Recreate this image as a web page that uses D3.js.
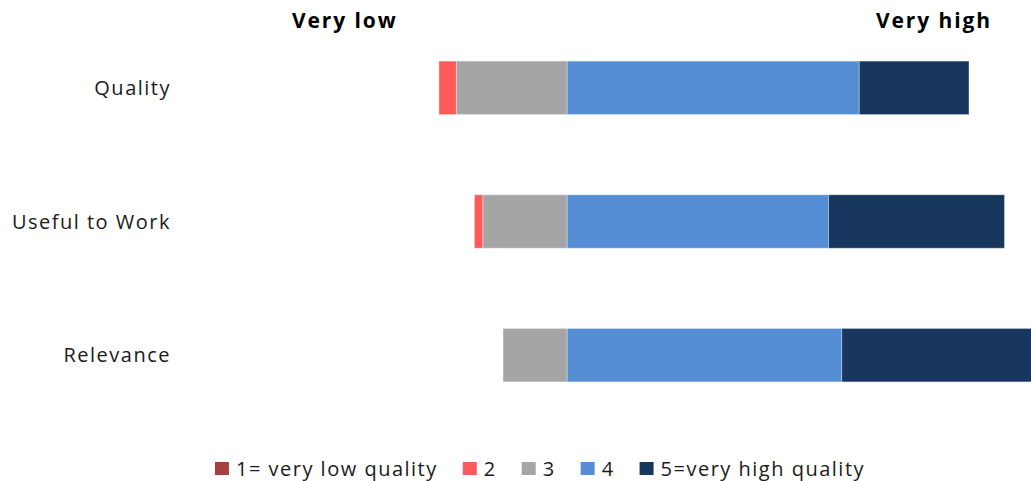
<!DOCTYPE html>
<html lang="en">
<head>
    <meta charset="UTF-8">
    <title>Quality ratings</title>
    <style>
        body { margin: 0; background: #fff; }
        svg { display: block; font-family: "Open Sans", sans-serif; }
        .cat { font-size: 20px; fill: #1a1a1a; text-anchor: end; letter-spacing: 1.5px; }
        .head { font-size: 21px; font-weight: bold; fill: #000; letter-spacing: 1.9px; }
        .legend text { font-size: 20px; fill: #1a1a1a; letter-spacing: 1.5px; }
    </style>
</head>
<body>
<script src="https://d3js.org/d3.v7.min.js"></script>
<script>
    // Data (percent of answers)
    const categories = ["Quality", "Useful to Work", "Relevance"];
    const levels = ["1= very low quality", "2", "3", "4", "5=very high quality"];
    const v1 = [0, 0, 0];
    const v2 = [3.3, 1.6, 0];
    const v3 = [20.9, 15.9, 12.1];
    const v4 = [55.1, 49.3, 51.8];
    const v5 = [20.7, 33.2, 36.1];
    const colors = ["#A5403F", "#FF5A5A", "#A5A5A5", "#558ED5", "#17375E"];

    const width = 1031, height = 481;

    const svg = d3.select("body").append("svg")
        .attr("width", width)
        .attr("height", height);

    // x: 0 sits between level 3 and level 4
    const x = d3.scaleLinear().domain([-107, 87.5]).range([0, width]);
    const y = d3.scaleBand().domain(categories).range([21, 422])
        .paddingInner(0.6).paddingOuter(0.3);

    // Build segments: levels 1-3 to the left of zero, 4-5 to the right
    const segs = [];
    categories.forEach((c, i) => {
        const vals = [v1[i], v2[i], v3[i], v4[i], v5[i]];
        let start = -(vals[0] + vals[1] + vals[2]);
        vals.forEach((v, k) => {
            if (v > 0) segs.push({ cat: c, k: k, x0: start, x1: start + v });
            start += v;
        });
    });

    svg.append("g").selectAll("rect")
        .data(segs)
        .enter().append("rect")
        .attr("x", d => x(d.x0))
        .attr("y", d => y(d.cat))
        .attr("width", d => x(d.x1) - x(d.x0))
        .attr("height", y.bandwidth())
        .attr("fill", d => colors[d.k])
        .attr("stroke", "#ffffff")
        .attr("stroke-opacity", 0.35)
        .attr("stroke-width", 1);

    // category labels
    svg.append("g").selectAll("text")
        .data(categories)
        .enter().append("text")
        .attr("class", "cat")
        .attr("x", 171)
        .attr("y", d => y(d) + y.bandwidth() / 2 + 7)
        .text(d => d);

    // end labels
    svg.append("text").attr("class", "head").attr("x", 292).attr("y", 28).text("Very low");
    svg.append("text").attr("class", "head").attr("x", 876).attr("y", 28).text("Very high");

    // legend
    const legend = svg.append("g").attr("class", "legend");
    let lx = 0;
    levels.forEach((l, k) => {
        const g = legend.append("g").attr("transform", "translate(" + lx + ",0)");
        g.append("rect").attr("x", 0).attr("y", -14).attr("width", 14).attr("height", 13)
            .attr("fill", colors[k]);
        const t = g.append("text").attr("x", 21).attr("y", 0).text(l);
        lx += 21 + t.node().getComputedTextLength() + 25;
    });
    const total = lx - 25;
    legend.attr("transform", "translate(" + (540 - total / 2) + ",476)");
</script>
</body>
</html>
